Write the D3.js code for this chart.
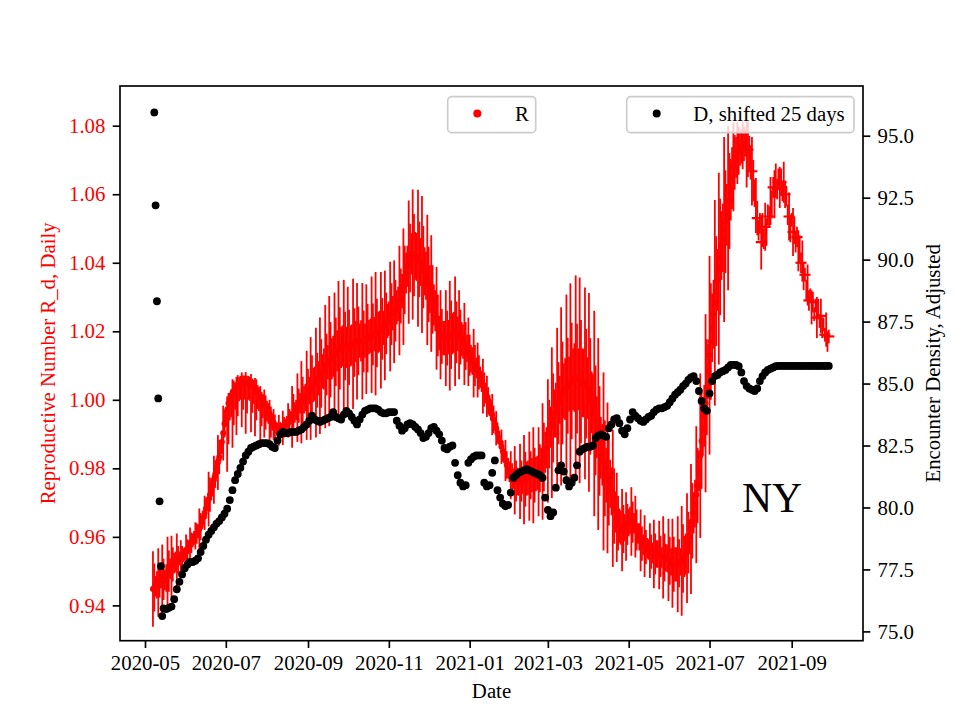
<!DOCTYPE html>
<html><head><meta charset="utf-8">
<script src="https://cdn.jsdelivr.net/npm/d3@7"></script>
<style>
body{margin:0;background:#fff}
svg{display:block}
text{font-family:"Liberation Serif","Times New Roman",serif}
</style>
</head><body>
<svg id="chart" width="960" height="720"></svg>
<script>
// ---------------- data ----------------
const baseDate = "2020-05-01";          // day 0
const rStartDay = 6;                     // R is daily from day 6 (one row = one week)
const rValues = [
0.9448,0.9452,0.9456,0.946,0.9467,0.9473,0.948,
0.9478,0.9476,0.9475,0.948,0.949,0.950,0.9507,
0.9513,0.952,0.9523,0.9527,0.953,0.9533,0.9537,
0.954,0.9543,0.9547,0.955,0.9557,0.9563,0.957,
0.9577,0.9583,0.959,0.9597,0.9603,0.961,0.9617,
0.9623,0.963,0.9643,0.9657,0.967,0.9683,0.9697,
0.971,0.9723,0.9737,0.975,0.9767,0.9783,0.980,
0.9817,0.9833,0.985,0.9877,0.9903,0.993,0.995,
0.997,0.999,1.000,1.001,1.002,1.0026,1.0031,
1.0037,1.0042,1.0046,1.005,1.0050,1.0051,1.0051,
1.0051,1.0050,1.005,1.0047,1.0045,1.0042,1.0038,
1.0034,1.003,1.0023,1.0017,1.001,1.0003,0.9997,
0.999,0.9983,0.9977,0.997,0.996,0.995,0.994,
0.9933,0.9927,0.992,0.9918,0.9916,0.9915,0.9917,
0.9918,0.992,0.9927,0.9933,0.994,0.9943,0.9947,
0.995,0.9957,0.9963,0.997,0.9977,0.9983,0.999,
0.9993,0.9997,1.000,1.0007,1.0013,1.002,1.0027,
1.0033,1.004,1.0043,1.0047,1.005,1.0057,1.0063,
1.007,1.0077,1.0083,1.009,1.0097,1.0103,1.011,
1.0113,1.0117,1.012,1.0127,1.0133,1.014,1.0143,
1.0147,1.015,1.0153,1.0157,1.016,1.0157,1.0153,
1.015,1.0153,1.0157,1.016,1.0163,1.0167,1.017,
1.0171,1.0172,1.0173,1.0172,1.0171,1.017,1.0173,
1.0177,1.018,1.0183,1.0187,1.019,1.0191,1.0192,
1.0193,1.0195,1.0197,1.020,1.0203,1.0207,1.021,
1.0217,1.0223,1.023,1.0237,1.0243,1.025,1.0253,
1.0257,1.026,1.027,1.028,1.029,1.0303,1.0317,
1.033,1.035,1.037,1.039,1.0402,1.0414,1.0426,
1.0424,1.0422,1.042,1.0417,1.0413,1.041,1.0402,
1.0395,1.0387,1.0375,1.0362,1.035,1.0337,1.0323,
1.031,1.0293,1.0277,1.026,1.0238,1.0217,1.0195,
1.019,1.0185,1.018,1.018,1.018,1.018,1.0183,
1.0187,1.019,1.0193,1.0197,1.020,1.0197,1.0193,
1.019,1.0183,1.0177,1.017,1.0163,1.0157,1.015,
1.014,1.013,1.012,1.0113,1.0107,1.010,1.0093,
1.0087,1.008,1.0067,1.0053,1.004,1.003,1.002,
1.001,0.9997,0.9983,0.997,0.9957,0.9943,0.993,
0.9917,0.9903,0.989,0.9877,0.9863,0.985,0.9837,
0.9823,0.981,0.980,0.979,0.978,0.9775,0.977,
0.9765,0.9763,0.9762,0.976,0.9762,0.9763,0.9765,
0.9767,0.9768,0.977,0.9773,0.9777,0.978,0.978,
0.978,0.978,0.9783,0.9787,0.979,0.980,0.981,
0.982,0.9833,0.9847,0.986,0.988,0.990,0.992,
0.9933,0.9947,0.996,0.997,0.998,0.999,1.000,
1.001,1.002,1.0026,1.0031,1.0037,1.0041,1.0046,
1.005,1.0055,1.006,1.0065,1.0063,1.0062,1.006,
1.0057,1.0053,1.005,1.0049,1.0048,1.0047,1.0034,
1.0022,1.001,0.9993,0.9977,0.996,0.994,0.992,
0.990,0.988,0.986,0.984,0.982,0.980,0.978,
0.9772,0.9763,0.9755,0.9733,0.9712,0.969,0.9673,
0.9657,0.964,0.9633,0.9627,0.962,0.9623,0.9627,
0.963,0.9636,0.9642,0.9648,0.9645,0.9643,0.964,
0.963,0.962,0.961,0.960,0.959,0.958,0.9577,
0.9573,0.957,0.9567,0.9563,0.956,0.9557,0.9553,
0.955,0.955,0.955,0.955,0.9547,0.9543,0.954,
0.954,0.954,0.954,0.9537,0.9533,0.953,0.9527,
0.9523,0.952,0.952,0.952,0.952,0.9523,0.9527,
0.953,0.9537,0.9543,0.955,0.9567,0.9583,0.960,
0.9623,0.9647,0.967,0.9697,0.9723,0.975,0.9793,
0.9837,0.988,0.9917,0.9953,0.999,1.0037,1.0083,
1.013,1.017,1.021,1.025,1.0283,1.0317,1.035,
1.0383,1.0417,1.045,1.0473,1.0497,1.052,1.054,
1.056,1.058,1.0613,1.0647,1.068,1.0693,1.0707,
1.072,1.0727,1.0733,1.074,1.0743,1.0747,1.075,
1.074,1.073,1.072,1.0693,1.0667,1.064,1.0603,
1.0567,1.053,1.0495,1.0515,1.046,1.0495,1.047,
1.0505,1.049,1.054,1.0535,1.058,1.057,1.062,
1.060,1.064,1.0615,1.0645,1.062,1.0635,1.061,
1.0635,1.060,1.0595,1.054,1.0535,1.050,1.0525,
1.049,1.0495,1.046,1.0475,1.0435,1.044,1.040,
1.0405,1.036,1.0365,1.032,1.0335,1.029,1.0305,
1.027,1.0285,1.025,1.0275,1.024,1.0265,1.023,
1.0245,1.021,1.022,1.019,1.0205,1.017,1.0185];
// upper error (also used as lower error unless overridden below)
const rErrors = [
.011,.007,.003,.004,.010,.005,.003,
.010,.006,.003,.004,.011,.006,.003,
.009,.005,.003,.003,.008,.004,.002,
.005,.003,.002,.002,.005,.003,.002,
.005,.003,.002,.002,.004,.003,.002,
.006,.004,.002,.002,.005,.003,.002,
.008,.005,.003,.003,.007,.004,.003,
.008,.005,.003,.003,.008,.004,.003,
.004,.003,.002,.002,.004,.003,.002,
.003,.003,.002,.002,.003,.002,.002,
.003,.002,.002,.002,.003,.002,.002,
.003,.003,.002,.002,.003,.002,.002,
.004,.003,.002,.002,.004,.003,.002,
.004,.003,.0015,.0015,.004,.002,.0015,
.005,.003,.0015,.002,.005,.003,.002,
.009,.006,.003,.003,.010,.005,.003,
.012,.007,.004,.004,.013,.007,.004,
.015,.009,.005,.005,.016,.008,.005,
.017,.010,.005,.006,.018,.009,.005,
.019,.011,.006,.006,.018,.010,.006,
.020,.012,.006,.006,.019,.010,.006,
.018,.011,.006,.006,.019,.010,.006,
.017,.010,.005,.006,.017,.009,.005,
.016,.010,.005,.005,.017,.009,.005,
.018,.010,.006,.006,.017,.009,.005,
.016,.009,.005,.005,.016,.009,.005,
.015,.009,.005,.005,.016,.008,.005,
.017,.010,.006,.006,.018,.010,.006,
.019,.012,.007,.007,.020,.011,.007,
.020,.012,.007,.007,.019,.011,.007,
.017,.010,.006,.006,.015,.009,.005,
.013,.008,.005,.005,.014,.008,.005,
.016,.010,.006,.006,.016,.009,.005,
.013,.008,.005,.005,.012,.007,.004,
.010,.006,.004,.004,.010,.006,.003,
.008,.005,.003,.003,.008,.005,.003,
.006,.004,.003,.003,.006,.004,.002,
.005,.003,.002,.002,.005,.003,.002,
.006,.004,.003,.003,.007,.004,.003,
.010,.006,.004,.004,.011,.006,.004,
.013,.008,.005,.005,.013,.007,.005,
.014,.008,.005,.005,.013,.007,.005,
.017,.010,.006,.006,.018,.010,.006,
.022,.013,.007,.008,.023,.012,.007,
.026,.015,.008,.009,.027,.014,.008,
.029,.017,.009,.010,.030,.016,.009,
.030,.018,.010,.010,.028,.016,.009,
.029,.017,.009,.010,.030,.016,.009,
.028,.016,.009,.009,.026,.014,.008,
.022,.013,.007,.007,.020,.011,.006,
.013,.008,.005,.005,.012,.007,.004,
.010,.006,.004,.004,.010,.006,.003,
.009,.006,.003,.004,.009,.005,.003,
.009,.005,.003,.003,.008,.005,.003,
.010,.006,.004,.004,.010,.006,.003,
.012,.007,.004,.004,.012,.007,.004,
.013,.008,.005,.005,.014,.007,.004,
.016,.010,.006,.006,.016,.009,.005,
.019,.011,.006,.007,.020,.011,.006,
.024,.014,.008,.009,.026,.014,.008,
.029,.017,.010,.010,.030,.016,.009,
.028,.017,.010,.010,.027,.015,.009,
.024,.014,.009,.009,.013,.008,.006,
.009,.007,.005,.005,.007,.005,.004,
.012,.008,.005,.005,.010,.006,.004,
.008,.005,.003,.003,.008,.005,.003,
.007,.004,.003,.003,.007,.004,.003,
.007,.005,.003,.003,.006,.004,.003,
.006,.004,.003,.003,.007,.004,.002,
.007,.004,.003,.003,.006,.004,.003,
.006,.004,.002,.003,.006,.003,.002,
.005,.003,.002,.002,.006,.003,.002,
.005,.003,.002,.002,.005,.003,.002];
// the July-2020 hump has long downward bars only: lower errors for days 62..103
const rLowerStartDay = 62;
const rLowerErrors = [
.018,.012,.006,.006,.016,.010,.006,
.014,.009,.005,.005,.013,.008,.005,
.015,.009,.005,.005,.014,.008,.005,
.014,.009,.005,.005,.015,.008,.005,
.010,.007,.004,.004,.009,.006,.003,
.005,.004,.002,.002,.005,.003,.002];
const rDotsBeforeDay = 453;             // later points are drawn as "+"
const rPlusDays = [455,458,462,465,468,471,474,477,480,483,486,489,492,495,498,501,504,507,510,513,516];

const dFirstDays = [7,8,9,10,11,12,13,14];
const dFirstValues = [95.94,92.19,88.32,84.40,80.25,77.63,75.62,75.93];
const dStartDay = 16, dStepDays = 2;
const dValues = [
75.9,75.95,76.0,76.3,76.7,77.0,77.3,77.55,77.7,77.8,
77.8,77.85,77.95,78.2,78.45,78.7,78.9,79.05,79.2,79.35,
79.45,79.6,79.75,79.95,80.3,80.7,81.1,81.35,81.6,81.85,
82.1,82.25,82.4,82.45,82.5,82.55,82.6,82.6,82.6,82.55,
82.45,82.4,82.7,82.95,83.05,83.0,83.0,83.05,83.05,83.05,
83.1,83.15,83.25,83.35,83.5,83.7,83.55,83.5,83.45,83.5,
83.55,83.6,83.65,83.85,83.65,83.6,83.55,83.75,83.9,83.8,
83.65,83.5,83.35,83.55,83.75,83.9,83.95,84.0,84.0,84.0,
83.95,83.85,83.8,83.8,83.85,83.85,83.85,83.5,83.3,83.1,
83.2,83.35,83.4,83.35,83.25,83.15,83.0,82.8,82.85,83.0,
83.2,83.25,83.1,82.95,82.7,82.4,82.35,82.45,82.5,81.8,
81.3,81.0,80.85,80.9,81.8,81.95,82.05,82.1,82.1,82.1,
81.0,80.85,80.9,81.4,81.9,80.7,80.4,80.15,80.05,80.1,
80.6,81.2,81.3,81.4,81.45,81.5,81.55,81.5,81.45,81.4,
81.35,81.3,81.2,80.4,79.9,79.65,79.8,80.8,81.5,81.7,
81.45,81.1,80.85,81.0,81.2,81.7,82.25,82.35,82.4,82.45,
82.45,82.5,82.8,82.9,82.95,82.9,82.85,83.2,83.35,83.55,
83.6,83.4,83.1,82.95,83.2,83.55,83.85,83.7,83.6,83.5,
83.45,83.55,83.65,83.7,83.85,83.95,84.0,84.0,84.05,84.1,
84.25,84.4,84.55,84.65,84.75,84.9,85.0,85.15,85.25,85.3,
85.1,84.7,84.3,84.0,83.9,84.6,85.1,85.3,85.35,85.45,
85.5,85.55,85.65,85.75,85.75,85.75,85.7,85.45,85.1,84.9,
84.8,84.75,84.7,84.8,85.1,85.3,85.45,85.55,85.6,85.65,
85.7,85.71,85.71,85.71,85.71,85.71,85.71,85.71,85.71,85.71,
85.71,85.71,85.71,85.71,85.71,85.71,85.71,85.71,85.71,85.71,85.71];

const xTickLabels = ["2020-05","2020-07","2020-09","2020-11","2021-01","2021-03","2021-05","2021-07","2021-09"];
const leftTicks = [0.94,0.96,0.98,1.00,1.02,1.04,1.06,1.08];
const rightTicks = [75.0,77.5,80.0,82.5,85.0,87.5,90.0,92.5,95.0];

// ---------------- layout ----------------
const L = 120, R = 863, T = 86, B = 640.7;
const FS = 20.8, TICK = 7.3, PAD = 7.3, LW = 1.67;
const RED = "#ff0000";

const parseDay = d3.utcParse("%Y-%m-%d");
const parseMonth = d3.utcParse("%Y-%m");
const base = parseDay(baseDate);
const dayToDate = d => d3.utcDay.offset(base, d);

const x = d3.scaleUtc().domain([parseMonth("2020-05"), parseMonth("2021-09")]).range([145, 791.7]);
x.domain([x.invert(L), x.invert(R)]).range([L, R]);
const yL = d3.scaleLinear().domain([0.94, 1.08]).range([605.4, 125.7]);
yL.domain([yL.invert(B), yL.invert(T)]).range([B, T]);
const yR = d3.scaleLinear().domain([75, 95]).range([631.4, 135.7]);
yR.domain([yR.invert(B), yR.invert(T)]).range([B, T]);

const rData = rValues.map((v, i) => {
  const day = rStartDay + i;
  const up = rErrors[i] ?? 0;
  const li = day - rLowerStartDay;
  const lo = (li >= 0 && li < rLowerErrors.length) ? rLowerErrors[li] : up;
  return {day, v, up, lo};
});
const rByDay = new Map(rData.map(d => [d.day, d]));
const dData = dFirstDays.map((d, i) => ({day: d, v: dFirstValues[i]}))
  .concat(dValues.map((v, i) => ({day: dStartDay + i * dStepDays, v})));

const svg = d3.select("#chart");
svg.append("rect").attr("width", 960).attr("height", 720).attr("fill", "#fff");
svg.append("defs").append("clipPath").attr("id", "plotclip")
  .append("rect").attr("x", L).attr("y", T).attr("width", R - L).attr("height", B - T);

const plot = svg.append("g").attr("clip-path", "url(#plotclip)");

// error bars
plot.append("g").selectAll("line").data(rData).join("line")
  .attr("x1", d => x(dayToDate(d.day))).attr("x2", d => x(dayToDate(d.day)))
  .attr("y1", d => yL(d.v - d.lo)).attr("y2", d => yL(d.v + d.up))
  .attr("stroke", RED).attr("stroke-width", 1.8);
// markers
plot.append("g").selectAll("circle").data(rData.filter(d => d.day < rDotsBeforeDay)).join("circle")
  .attr("cx", d => x(dayToDate(d.day))).attr("cy", d => yL(d.v)).attr("r", 3).attr("fill", RED);
plot.append("g").selectAll("line").data(rPlusDays.map(d => rByDay.get(d)).filter(Boolean)).join("line")
  .attr("x1", d => x(dayToDate(d.day)) - 5.5).attr("x2", d => x(dayToDate(d.day)) + 5.5)
  .attr("y1", d => yL(d.v)).attr("y2", d => yL(d.v))
  .attr("stroke", RED).attr("stroke-width", 2.2);
// D dots
plot.append("g").selectAll("circle").data(dData).join("circle")
  .attr("cx", d => x(dayToDate(d.day))).attr("cy", d => yR(d.v)).attr("r", 3.9).attr("fill", "#000");

// axes
function styleAxis(g) {
  g.selectAll(".domain").remove();
  g.selectAll(".tick line").attr("stroke", "#000").attr("stroke-width", LW);
  g.selectAll(".tick text").attr("font-size", FS).attr("font-family", '"Liberation Serif", serif');
}
const xAxis = svg.append("g").attr("transform", `translate(0,${B})`)
  .call(d3.axisBottom(x).tickValues(xTickLabels.map(s => parseMonth(s)))
    .tickFormat(d3.utcFormat("%Y-%m")).tickSize(TICK).tickPadding(PAD));
styleAxis(xAxis);
xAxis.selectAll(".tick text").attr("fill", "#000");

const lAxis = svg.append("g").attr("transform", `translate(${L},0)`)
  .call(d3.axisLeft(yL).tickValues(leftTicks).tickFormat(d3.format(".2f")).tickSize(TICK).tickPadding(PAD));
styleAxis(lAxis);
lAxis.selectAll(".tick text").attr("fill", RED);

const rAxis = svg.append("g").attr("transform", `translate(${R},0)`)
  .call(d3.axisRight(yR).tickValues(rightTicks).tickFormat(d3.format(".1f")).tickSize(TICK).tickPadding(PAD));
styleAxis(rAxis);
rAxis.selectAll(".tick text").attr("fill", "#000");

// frame
svg.append("rect").attr("x", L).attr("y", T).attr("width", R - L).attr("height", B - T)
  .attr("fill", "none").attr("stroke", "#000").attr("stroke-width", LW);

// labels
svg.append("text").attr("x", (L + R) / 2).attr("y", 698).attr("text-anchor", "middle")
  .attr("font-size", FS).attr("fill", "#000").text("Date");
svg.append("text").attr("transform", `translate(55,${(T + B) / 2}) rotate(-90)`).attr("text-anchor", "middle")
  .attr("font-size", FS).attr("fill", RED).text("Reproductive Number R_d, Daily");
svg.append("text").attr("transform", `translate(940,${(T + B) / 2}) rotate(-90)`).attr("text-anchor", "middle")
  .attr("font-size", FS).attr("fill", "#000").text("Encounter Density, Adjusted");
svg.append("text").attr("x", 742).attr("y", 511.7).attr("font-size", 41.7).attr("fill", "#000").text("NY");

// legends
function legend(x0, w, color, label, dotX, textX) {
  const g = svg.append("g");
  g.append("rect").attr("x", x0).attr("y", 96.7).attr("width", w).attr("height", 36).attr("rx", 4)
    .attr("fill", "#fff").attr("fill-opacity", 0.8).attr("stroke", "#cccccc").attr("stroke-width", LW);
  g.append("circle").attr("cx", dotX).attr("cy", 113.5).attr("r", 4).attr("fill", color);
  g.append("text").attr("x", textX).attr("y", 120.5).attr("font-size", FS).attr("fill", "#000").text(label);
}
legend(447.7, 88, RED, "R", 477.3, 515);
legend(626.7, 227.3, "#000", "D, shifted 25 days", 656.7, 693.3);
</script>
</body></html>
